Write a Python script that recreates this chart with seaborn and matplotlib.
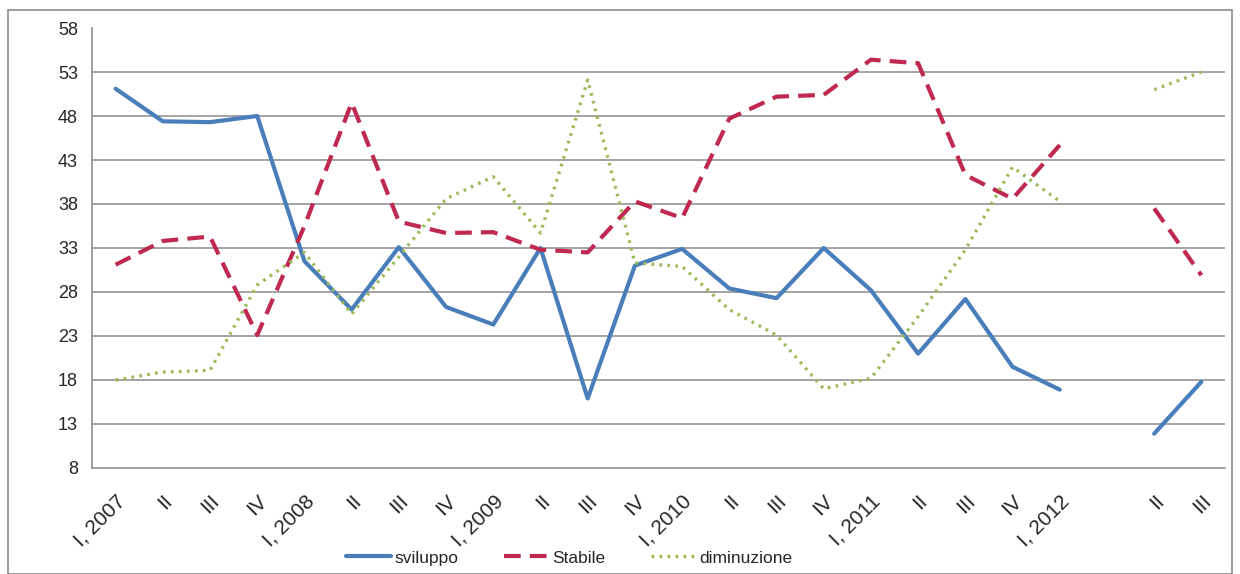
import numpy as np
import pandas as pd
import matplotlib
matplotlib.use('Agg')
import matplotlib.pyplot as plt
import seaborn as sns
from matplotlib.patches import Rectangle

sns.set_style('white')
plt.rcParams['font.family'] = ['Liberation Sans Narrow', 'Liberation Sans', 'DejaVu Sans']

# quarters, with one empty slot before II 2012
quarters = ['I, 2007', 'II', 'III', 'IV',
            'I, 2008', 'II', 'III', 'IV',
            'I, 2009', 'II', 'III', 'IV',
            'I, 2010', 'II', 'III', 'IV',
            'I, 2011', 'II', 'III', 'IV',
            'I, 2012', '', 'II', 'III']

sviluppo = [51.1, 47.4, 47.3, 48.0, 31.5, 26.0, 33.1, 26.3, 24.3, 33.0, 15.9, 31.0,
            32.9, 28.4, 27.3, 33.0, 28.2, 21.0, 27.2, 19.5, 16.9, np.nan, 11.9, 17.8]
stabile = [31.1, 33.8, 34.3, 23.1, 35.5, 49.5, 36.0, 34.7, 34.8, 32.8, 32.5, 38.3,
           36.4, 47.7, 50.2, 50.4, 54.4, 54.0, 41.3, 38.6, 44.7, np.nan, 37.5, 29.9]
diminuzione = [18.0, 18.9, 19.1, 28.8, 32.5, 25.5, 32.0, 38.6, 41.1, 34.7, 52.1, 31.3,
               30.9, 26.0, 23.1, 17.0, 18.2, 25.2, 32.8, 42.2, 38.3, np.nan, 51.0, 53.0]

series = {'sviluppo': sviluppo, 'Stabile': stabile, 'diminuzione': diminuzione}

rows = []
for name, vals in series.items():
    seg = 0
    for i, v in enumerate(vals):
        if np.isnan(v):
            seg += 1
            continue
        rows.append({'pos': i, 'value': v, 'serie': name, 'seg': seg})
df = pd.DataFrame(rows)

palette = {'sviluppo': '#4A7EBB', 'Stabile': '#C0294F', 'diminuzione': '#9BBB59'}
dashes = {'sviluppo': '', 'Stabile': (4, 2.2), 'diminuzione': (0.8, 1.6)}
widths = {'sviluppo': 3.0, 'Stabile': 3.0, 'diminuzione': 2.4}

fig = plt.figure(figsize=(12.4, 5.74), dpi=100)
ax = fig.add_axes([0.0742, 0.1847, 0.9137, 0.7665])

for name in series:
    sub = df[df['serie'] == name]
    for k, (seg, part) in enumerate(sub.groupby('seg')):
        sns.lineplot(data=part, x='pos', y='value', ax=ax, color=palette[name],
                     linewidth=widths[name], dashes=False,
                     label=name if k == 0 else None, legend=False)
        line = ax.lines[-1]
        if dashes[name]:
            line.set_dashes(dashes[name])

ax.set_xlim(-0.5, len(quarters) - 0.5)
ax.set_ylim(8, 58)
ax.set_yticks(np.arange(8, 59, 5))
ax.set_xticks(range(len(quarters)))
ax.set_xticklabels(quarters, rotation=45, ha='right', rotation_mode='anchor', fontsize=15)
ax.set_xticks(np.arange(-0.5, len(quarters), 1), minor=True)
ax.tick_params(axis='x', which='major', length=0, pad=17)
ax.tick_params(axis='x', which='minor', length=4, color='#888888', width=1)
ax.tick_params(axis='y', length=6, color='#888888', width=1, labelsize=13, pad=4)
ax.set_xlabel('')
ax.set_ylabel('')

for y in np.arange(13, 54, 5):
    ax.axhline(y, color='#8C8C8C', linewidth=1.1, zorder=0)

for s in ['top', 'right']:
    ax.spines[s].set_visible(False)
for s in ['left', 'bottom']:
    ax.spines[s].set_color('#888888')
    ax.spines[s].set_linewidth(1.1)

handles, labels = ax.get_legend_handles_labels()
for h, n in zip(handles, labels):
    if dashes[n]:
        h.set_dashes(dashes[n])
fig.legend(handles, labels, loc='center', bbox_to_anchor=(0.459, 0.028), ncol=3,
           frameon=False, fontsize=12.5, handlelength=2.6, handletextpad=0.2,
           columnspacing=2.6)

fig.patches.append(Rectangle((8 / 1240, 0.0), 1224 / 1240, 1 - 10 / 574, transform=fig.transFigure,
                             fill=False, edgecolor='#8C8C8C', linewidth=1.2))

fig.savefig('out.png', dpi=100)
